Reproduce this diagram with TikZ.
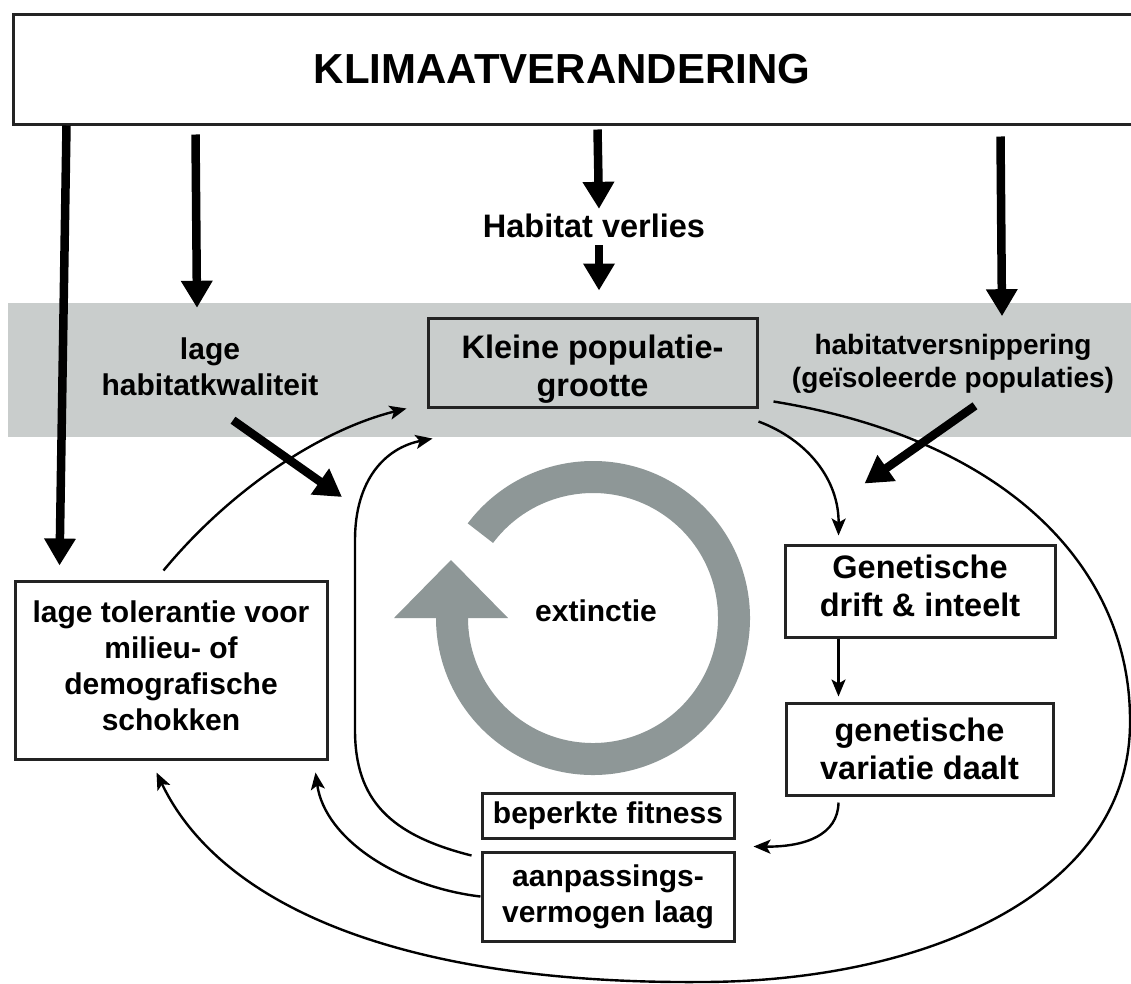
\documentclass[tikz,border=0pt]{standalone}
\usepackage{fontspec}
\setmainfont{Liberation Sans}
\usetikzlibrary{arrows.meta,calc}
\definecolor{bandgray}{RGB}{201,205,204}
\definecolor{ringgray}{RGB}{142,151,151}
\definecolor{boxline}{RGB}{35,35,35}
\begin{document}
\begin{tikzpicture}[x=1pt,y=-1pt,
  box/.style={draw=boxline, line width=3pt, inner sep=0pt, align=center},
  fA/.style={font=\bfseries\fontsize{30}{36}\selectfont},
  fB/.style={font=\bfseries\fontsize{32.5}{38}\selectfont},
  big/.style={line width=8.5pt, -{Triangle[length=27pt,width=30pt]}},
  flow/.style={line width=2.4pt, -{Stealth[length=17pt,width=14pt,inset=4pt]}},
]
\useasboundingbox (0,0) rectangle (1131,983);
\fill[white] (0,0) rectangle (1131,983);
\fill[bandgray] (8,303) rectangle (1131,437);

% extinction ring
\coordinate (ringc) at (593,618);
\draw[ringgray, line width=32pt] ($(ringc)+(-143:141)$) arc[start angle=-143, end angle=180, radius=141];
\fill[ringgray] (394,618) -- (508,618) -- (451,560) -- cycle;

% nodes
\node[draw=boxline, line width=3pt, minimum width=1127pt, minimum height=110pt, inner sep=0pt,
      font=\bfseries\fontsize{42}{48}\selectfont] (klimaat) at (576.5,69) {\hspace*{-29pt}KLIMAATVERANDERING};
\node[font=\bfseries\fontsize{32.5}{38}\selectfont, inner sep=0pt] (habverlies) at (594,226) {Habitat verlies};
\node[fA, align=center, inner sep=0pt] (lagehab) at (210,367) {lage\\habitatkwaliteit};
\node[font=\bfseries\fontsize{28}{33}\selectfont, align=center, inner sep=0pt] (versnip) at (953,364) {habitatversnippering\\(geïsoleerde populaties)};
\node[box, fB, minimum width=329pt, minimum height=89pt] (kleine) at (592.5,362.5) {\rule{0pt}{36.7pt}Kleine populatie-\\grootte};
\node[box, fA, minimum width=312pt, minimum height=178pt] (tol) at (171,670) {lage tolerantie voor\\milieu- of\\demografische\\schokken\rule[-8pt]{0pt}{0pt}};
\node[box, fB, minimum width=270pt, minimum height=92pt] (gen) at (920,591) {Genetische\\drift \& inteelt\rule[-10.8pt]{0pt}{0pt}};
\node[box, fB, minimum width=267pt, minimum height=92pt] (genvar) at (919.5,749) {genetische\\variatie daalt};
\node[box, fA, minimum width=252pt, minimum height=45pt] (fitness) at (608,815.5) {beperkte fitness};
\node[box, fA, minimum width=252pt, minimum height=89pt] (aanp) at (608,896.5) {aanpassings-\\vermogen laag};
\node[fA, inner sep=0pt] (ext) at (596,611) {extinctie};
\coordinate (dlend) at (342,497);

% thick arrows
\draw[big] ($(klimaat.south west)+(55,0)$) -- ($(tol.north west)+(46,-14)$);
\draw[big] ($(klimaat.south west)+(184,9)$) -- ($(lagehab.north)+(-13,-30)$);
\draw[big] ($(klimaat.south west)+(586,4)$) -- ($(habverlies.north)+(5,-5)$);
\draw[big] ($(habverlies.south)+(5,7)$) -- ($(kleine.north)+(6.5,-26)$);
\draw[big] ($(klimaat.south west)+(989,11)$) -- ($(versnip.north)+(49,-18)$);
\draw[big] ($(lagehab.south)+(23,24)$) -- (dlend);
\draw[big] ($(versnip.south)+(22,12)$) -- ($(gen.north west)+(81,-60)$);

% thin connectors
\draw[flow] ($(kleine.south east)+(0,13)$) .. controls (808,440) and (839,480) .. ($(gen.north west)+(55,-8)$);
\draw[flow] ($(gen.south west)+(55,0)$) -- ($(genvar.north west)+(54,-5)$);
\draw[flow] ($(genvar.south west)+(54,6)$) .. controls (838,835) and (805,847) .. ($(aanp.north east)+(18,-4)$);
\draw[flow] ($(aanp.north west)+(-9,5)$) .. controls (390,835) and (355,800) .. (355,730) -- (355,540) .. controls (355,480) and (385,448) .. ($(kleine.south west)+(6,30)$);
\draw[flow] (aanp.west) .. controls (400,887) and (325,840) .. ($(tol.south east)+(-13,12)$);
\draw[flow] ($(kleine.south east)+(15,-7)$) .. controls (1010,440) and (1130,570) .. (1130,720) .. controls (1132,890) and (930,982) .. (700,982) .. controls (400,984) and (220,905) .. ($(tol.south west)+(143,12)$);
\draw[flow] ($(tol.north west)+(150,-9)$) .. controls (230,490) and (320,430) .. ($(kleine.south west)+(-20,0)$);
\end{tikzpicture}
\end{document}
